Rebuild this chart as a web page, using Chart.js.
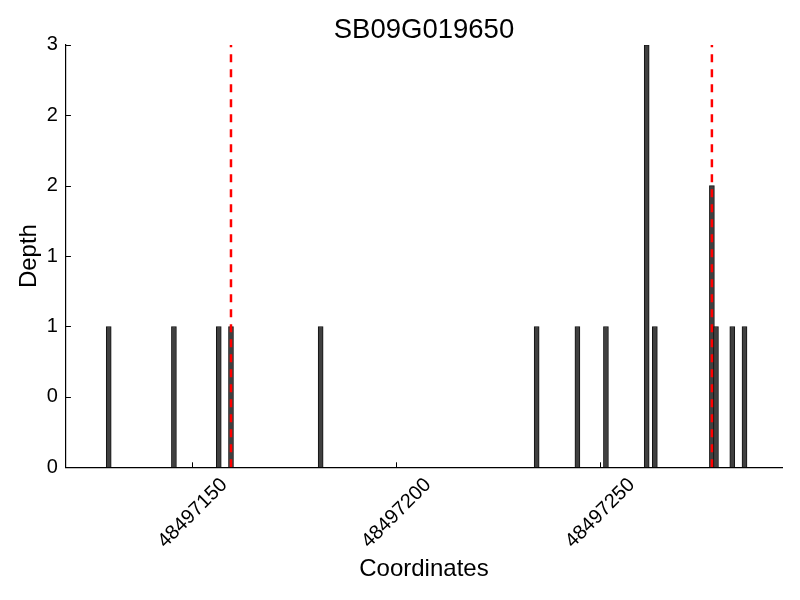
<!DOCTYPE html>
<html>
<head>
<meta charset="utf-8">
<script src="https://cdn.jsdelivr.net/npm/chart.js@4/dist/chart.umd.min.js"></script>
<style>
  body { margin: 0; background: #fff; }
  #wrap { width: 800px; height: 600px; }
</style>
</head>
<body>
<div id="wrap"><canvas id="chart" width="800" height="600"></canvas></div>
<script>
// read coverage per position
const positions = [48497129.5, 48497145.5, 48497156.5, 48497159.5, 48497181.5,
                   48497234.5, 48497244.5, 48497251.5, 48497261.5, 48497263.5,
                   48497277.5, 48497278.5, 48497282.5, 48497285.5];
const depths = [1, 1, 1, 1, 1, 1, 1, 1, 3, 1, 2, 1, 1, 1];

// gene boundaries (red dashed)
const geneBounds = [48497159.5, 48497277.5];

const xTicks = [48497150, 48497200, 48497250];
const yTicks = [0, 0.5, 1, 1.5, 2, 2.5, 3];

const font = "'Liberation Sans', Arial, sans-serif";

// matplotlib-style ticks pointing into the plot
const innerTicks = {
  id: 'innerTicks',
  afterDraw(chart) {
    const { ctx, scales: { x, y }, chartArea } = chart;
    ctx.save();
    ctx.strokeStyle = '#000';
    ctx.lineWidth = 1;
    ctx.beginPath();
    x.ticks.forEach(t => {
      const px = Math.round(x.getPixelForValue(t.value)) + 0.5;
      ctx.moveTo(px, chartArea.bottom);
      ctx.lineTo(px, chartArea.bottom - 5);
    });
    y.ticks.forEach(t => {
      const py = Math.round(y.getPixelForValue(t.value)) + 0.5;
      ctx.moveTo(chartArea.left, py);
      ctx.lineTo(chartArea.left + 5, py);
    });
    ctx.stroke();
    ctx.restore();
  }
};

const datasets = [{
  type: 'bar',
  data: positions.map((p, i) => ({ x: p, y: depths[i] })),
  backgroundColor: '#404040',
  borderColor: '#111',
  borderWidth: 1,
  barThickness: 5,
  order: 1
}];

geneBounds.forEach(b => {
  datasets.push({
    type: 'line',
    data: [{ x: b, y: 0 }, { x: b, y: 3 }],
    borderColor: 'red',
    borderWidth: 2.5,
    borderDash: [8, 7],
    pointRadius: 0,
    order: 0
  });
});

new Chart(document.getElementById('chart'), {
  type: 'bar',
  data: { datasets },
  options: {
    responsive: false,
    animation: false,
    layout: { padding: { left: 15, right: 18, top: 0, bottom: 16 } },
    plugins: {
      legend: { display: false },
      tooltip: { enabled: false },
      title: {
        display: true,
        fullSize: false,
        text: 'SB09G019650',
        color: '#000',
        font: { family: font, size: 27.5, weight: 'normal', lineHeight: 1.05 },
        padding: { top: 16, bottom: 0 }
      }
    },
    scales: {
      x: {
        type: 'linear',
        offset: false,
        min: 48497119,
        max: 48497294.7,
        afterBuildTicks: s => { s.ticks = xTicks.map(v => ({ value: v })); },
        grid: { display: false, drawTicks: false, offset: false },
        border: { display: true, color: '#000', width: 1.2 },
        ticks: {
          color: '#000',
          font: { family: font, size: 20 },
          maxRotation: 45,
          minRotation: 45,
          labelOffset: 32,
          padding: 6,
          callback: v => String(v)
        },
        title: {
          display: true,
          text: 'Coordinates',
          color: '#000',
          font: { family: font, size: 24 },
          padding: { top: -4, bottom: 0 }
        }
      },
      y: {
        min: 0,
        max: 3,
        afterBuildTicks: s => { s.ticks = yTicks.map(v => ({ value: v })); },
        grid: { display: false, drawTicks: false },
        border: { display: true, color: '#000', width: 1.2 },
        ticks: {
          color: '#000',
          font: { family: font, size: 20 },
          padding: 8,
          callback: v => String(Math.floor(v))
        },
        title: {
          display: true,
          text: 'Depth',
          color: '#000',
          font: { family: font, size: 24 },
          padding: { top: 0, bottom: -5 }
        }
      }
    }
  },
  plugins: [innerTicks]
});
</script>
</body>
</html>
